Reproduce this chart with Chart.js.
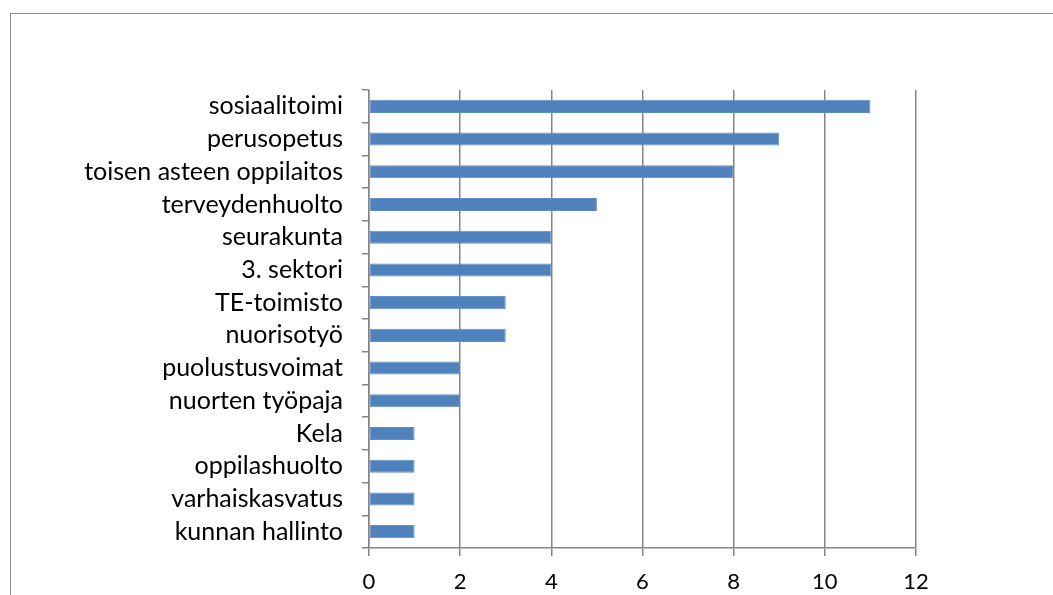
<!DOCTYPE html>
<html>
<head>
<meta charset="utf-8">
<script src="https://cdn.jsdelivr.net/npm/chart.js@4/dist/chart.umd.min.js"></script>
<style>
  body { margin: 0; background: #fff; }
  #wrap { position: relative; width: 1053px; height: 595px; }
  #frame { position: absolute; left: 10px; top: 13px; width: 1060px; height: 600px; border: 1px solid #8c8c8c; box-sizing: border-box; }
  canvas { position: absolute; left: 0; top: 0; }
</style>
</head>
<body>
<div id="wrap">
  <div id="frame"></div>
  <canvas id="grafica" width="1053" height="595"></canvas>
</div>
<script>
// datos del grafico (de arriba a abajo)
var categorias = ["sosiaalitoimi", "perusopetus", "toisen asteen oppilaitos", "terveydenhuolto",
  "seurakunta", "3. sektori", "TE-toimisto", "nuorisotyö", "puolustusvoimat",
  "nuorten työpaja", "Kela", "oppilashuolto", "varhaiskasvatus", "kunnan hallinto"];
var valores = [11, 9, 8, 5, 4, 4, 3, 3, 2, 2, 1, 1, 1, 1];
var ticksX = [0, 2, 4, 6, 8, 10, 12];

var fuente = "Lato, 'Open Sans', sans-serif";
var gris = "#868686";

new Chart(document.getElementById("grafica"), {
  type: "bar",
  data: {
    labels: categorias,
    datasets: [{
      data: valores,
      backgroundColor: "#4F81BD",
      borderColor: "#5f8dc6",
      borderWidth: 1,
      borderSkipped: false,
      barPercentage: 0.4,
      categoryPercentage: 1
    }]
  },
  options: {
    indexAxis: "y",
    responsive: false,
    animation: false,
    layout: { padding: { left: 0, right: 137, top: 90, bottom: 0 } },
    plugins: { legend: { display: false }, tooltip: { enabled: false } },
    scales: {
      x: {
        min: 0,
        max: 12,
        afterBuildTicks: function(axis) {
          axis.ticks = ticksX.map(function(v) { return { value: v }; });
        },
        afterFit: function(axis) { axis.height = 47; },
        grid: { color: gris, lineWidth: 1.5, tickLength: 8, drawTicks: true },
        border: { color: gris, width: 1.5 },
        ticks: { color: "#000", font: { family: fuente, size: 22 }, padding: 13 }
      },
      y: {
        afterFit: function(axis) { axis.width = 369; },
        grid: { offset: true, drawOnChartArea: false, color: gris, lineWidth: 1.5, tickLength: 7 },
        border: { color: gris, width: 1.5 },
        ticks: { color: "#000", font: { family: fuente, size: 25 }, padding: 19, autoSkip: false }
      }
    }
  }
});
</script>
</body>
</html>
